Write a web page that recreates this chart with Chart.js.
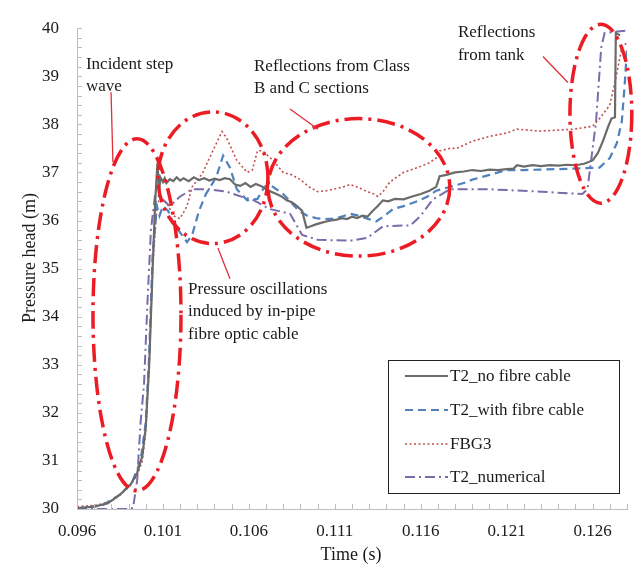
<!DOCTYPE html>
<html><head><meta charset="utf-8">
<script src="https://cdn.jsdelivr.net/npm/chart.js@4.4.1/dist/chart.umd.min.js"></script>
<style>html,body{margin:0;padding:0;background:#fff;}#wrap{width:643px;height:570px;}</style>
</head><body><div id="wrap"><canvas id="c" width="643" height="570"></canvas></div>
<script>
// ---------- data ----------
const seriesNames = ['T2_no fibre cable', 'T2_with fibre cable', 'FBG3', 'T2_numerical'];

const timeNoFibre = [0.0960,0.0970,0.0978,0.0985,0.0991,0.0995,0.0998,0.1000,0.1002,0.1004,0.10055,0.10068,0.10078,0.10085,0.1010,0.1011,0.1012,0.1014,0.1016,0.1018,0.1020,0.1022,0.1025,0.1028,0.1031,0.1034,0.1037,0.1040,0.1043,0.1046,0.1049,0.1052,0.1055,0.1058,0.1061,0.1064,0.1067,0.1070,0.1073,0.1076,0.1079,0.1082,0.1085,0.1088,0.1091,0.10935,0.1096,0.1099,0.1102,0.1105,0.1108,0.1111,0.1114,0.1117,0.1120,0.1123,0.1126,0.1129,0.1132,0.1135,0.1138,0.1141,0.1145,0.1150,0.1155,0.1160,0.1165,0.1169,0.1171,0.1175,0.1180,0.1185,0.1190,0.1195,0.1200,0.1205,0.1210,0.1214,0.1216,0.1220,0.1225,0.1230,0.1235,0.1240,0.1245,0.1250,0.1255,0.1260,0.1263,0.1266,0.1269,0.1271,0.1273,0.12735,0.1276];
const headNoFibre = [30.02,30.05,30.12,30.3,30.5,30.75,31.1,31.7,33.0,35.0,36.4,37.2,36.6,36.9,36.8,36.88,36.78,36.86,36.82,36.9,36.83,36.88,36.82,36.9,36.84,36.88,36.83,36.87,36.84,36.88,36.86,36.75,36.72,36.78,36.7,36.76,36.72,36.65,36.6,36.55,36.5,36.42,36.38,36.3,36.2,35.85,35.88,35.92,35.95,35.98,36.0,36.02,36.05,36.03,36.08,36.05,36.1,36.08,36.2,36.3,36.42,36.4,36.45,36.44,36.5,36.55,36.62,36.7,36.92,36.95,37.0,37.02,37.05,37.03,37.06,37.05,37.07,37.08,37.15,37.12,37.15,37.13,37.15,37.14,37.16,37.15,37.18,37.25,37.4,37.65,37.95,38.12,38.15,39.9,39.85];

const timeWithFibre = [0.0960,0.0975,0.0985,0.0992,0.0997,0.1000,0.1002,0.1004,0.10065,0.1008,0.1010,0.1013,0.1016,0.1020,0.1024,0.1027,0.1031,0.1035,0.1041,0.1045,0.1049,0.1053,0.1059,0.1065,0.1069,0.1072,0.1076,0.1080,0.1084,0.1089,0.1094,0.1099,0.1104,0.1109,0.1114,0.1119,0.1124,0.1129,0.1134,0.1139,0.1144,0.1150,0.1158,0.1164,0.1169,0.1177,0.1185,0.1190,0.1200,0.1210,0.1220,0.1230,0.1240,0.1250,0.1264,0.1270,0.1274,0.1277,0.12788,0.1280];
const headWithFibre = [30.0,30.08,30.3,30.55,31.0,31.8,33.2,35.3,36.3,36.1,36.3,36.2,35.95,35.75,35.55,35.7,36.2,36.55,36.9,37.35,37.1,36.65,36.42,36.45,36.7,36.75,36.65,36.55,36.4,36.2,36.1,36.05,36.03,36.04,36.08,36.14,36.1,36.04,35.98,36.1,36.24,36.3,36.4,36.5,36.62,36.7,36.78,36.85,36.95,37.05,37.05,37.06,37.07,37.08,37.1,37.3,37.6,38.06,38.9,39.6];

const timeFBG3 = [0.0960,0.0972,0.0982,0.0990,0.0995,0.0998,0.1000,0.1002,0.1004,0.10065,0.1008,0.1012,0.1016,0.1020,0.1024,0.1027,0.1033,0.1039,0.10444,0.1047,0.1053,0.1059,0.1062,0.1065,0.1068,0.1074,0.1080,0.1085,0.1090,0.1095,0.1100,0.1105,0.1109,0.1115,0.1119,0.1124,0.1129,0.1133,0.1135,0.1138,0.1142,0.1146,0.1150,0.1158,0.1165,0.1169,0.1171,0.1177,0.1181,0.1190,0.1200,0.1210,0.1216,0.1229,0.1240,0.1249,0.1260,0.1264,0.1270,0.1274,0.1277,0.1280];
const headFBG3 = [30.05,30.08,30.2,30.45,30.7,31.0,31.6,33.0,35.0,36.3,36.45,36.38,36.1,36.04,36.3,36.7,36.98,37.45,37.85,37.72,37.25,37.0,37.05,37.45,37.45,37.25,37.0,36.95,36.85,36.7,36.6,36.62,36.65,36.7,36.75,36.68,36.6,36.55,36.5,36.6,36.8,36.9,37.0,37.1,37.2,37.3,37.45,37.5,37.5,37.65,37.75,37.82,37.9,37.86,37.88,37.9,37.96,38.12,38.4,39.05,39.6,39.7];

const timeNumerical = [0.0960,0.0980,0.0990,0.09926,0.0995,0.0997,0.0999,0.1001,0.1003,0.10055,0.1008,0.1014,0.1020,0.1027,0.1037,0.1047,0.1057,0.1062,0.1072,0.1084,0.1091,0.1100,0.1119,0.1129,0.1138,0.1154,0.1160,0.1167,0.1177,0.1200,0.1230,0.1254,0.1257,0.1262,0.1265,0.1267,0.1280];
const headNumerical = [30.0,30.0,30.0,30.02,30.6,31.8,32.6,34.3,35.8,36.55,36.5,36.3,36.5,36.65,36.65,36.6,36.48,36.44,36.24,36.14,35.7,35.6,35.58,35.64,35.88,35.9,36.1,36.44,36.65,36.65,36.6,36.55,36.65,38.06,39.6,39.9,39.95];

const xTickValues = [0.096,0.101,0.106,0.111,0.116,0.121,0.126];
const yTickValues = [30,31,32,33,34,35,36,37,38,39,40];

// ---------- annotations (data coordinates) ----------
const noteEllipses = [
  {t:0.09949, h:34.04, dt:0.00256, dh:3.66},
  {t:0.10391, h:36.89, dt:0.00320, dh:1.37},
  {t:0.11240, h:36.69, dt:0.00529, dh:1.43},
  {t:0.12648, h:38.22, dt:0.00180, dh:1.86}
];
const noteLeaders = [
  [0.09798,38.67,0.09809,37.21],
  [0.10420,35.43,0.10490,34.79],
  [0.10839,38.32,0.11002,37.90],
  [0.12311,39.41,0.12456,38.87]
];
const noteTexts = [
  {t:0.09652, h:39.25, lines:['Incident step','wave']},
  {t:0.10630, h:39.21, lines:['Reflections from Class','B and C sections']},
  {t:0.11816, h:39.90, lines:['Reflections','from tank']},
  {t:0.10246, h:34.57, lines:['Pressure oscillations','induced by in-pipe','fibre optic cable']}
];

// ---------- styles ----------
const FONT = '"Liberation Serif", "Times New Roman", serif';
const styles = [
  {color:'#6b6b6b', width:2.2, dash:[]},
  {color:'#4f81bd', width:2.2, dash:[8,5]},
  {color:'#c0504d', width:1.6, dash:[2,2.5]},
  {color:'#7b6bab', width:2.0, dash:[10,4,2,4]}
];
const pairs = [[timeNoFibre,headNoFibre],[timeWithFibre,headWithFibre],[timeFBG3,headFBG3],[timeNumerical,headNumerical]];

const datasets = pairs.map((p,i)=>({
  label: seriesNames[i],
  data: p[0].map((t,k)=>({x:t, y:p[1][k]})),
  borderColor: styles[i].color,
  borderWidth: styles[i].width,
  borderDash: styles[i].dash,
  pointRadius: 0,
  tension: 0,
  fill: false
}));

const decor = {
  id:'decor',
  afterDatasetsDraw(chart){
    const {ctx, scales:{x,y}, chartArea:a} = chart;
    ctx.save();
    // inside minor ticks
    ctx.strokeStyle = '#bdbdbd'; ctx.lineWidth = 1; ctx.setLineDash([]);
    ctx.beginPath();
    for (let i=96;i<=128;i++){ const px=Math.round(x.getPixelForValue(i/1000))+0.5; ctx.moveTo(px,a.bottom); ctx.lineTo(px,a.bottom-5); }
    for (let j=0;j<=50;j++){ const py=Math.round(y.getPixelForValue(30+j*0.2))+0.5; ctx.moveTo(a.left,py); ctx.lineTo(a.left+5,py); }
    ctx.stroke();

    // red ellipses
    ctx.strokeStyle = '#ec1c24'; ctx.lineWidth = 3.5; ctx.setLineDash([18,6,3,6]);
    noteEllipses.forEach(e=>{
      const cx=x.getPixelForValue(e.t), cy=y.getPixelForValue(e.h);
      const rx=Math.abs(x.getPixelForValue(e.t+e.dt)-cx), ry=Math.abs(y.getPixelForValue(e.h+e.dh)-cy);
      ctx.beginPath(); ctx.ellipse(cx,cy,rx,ry,0,0,Math.PI*2); ctx.stroke();
    });
    // leaders
    ctx.setLineDash([]); ctx.lineWidth = 1.3; ctx.strokeStyle = '#e0303a';
    noteLeaders.forEach(l=>{
      ctx.beginPath(); ctx.moveTo(x.getPixelForValue(l[0]),y.getPixelForValue(l[1]));
      ctx.lineTo(x.getPixelForValue(l[2]),y.getPixelForValue(l[3])); ctx.stroke();
    });
    // texts
    ctx.fillStyle = '#1a1a1a'; ctx.font = '17px '+FONT; ctx.textAlign='left'; ctx.textBaseline='middle';
    noteTexts.forEach(n=>{
      const px=x.getPixelForValue(n.t), py=y.getPixelForValue(n.h);
      n.lines.forEach((s,k)=>ctx.fillText(s,px,py+k*22.5));
    });

    // legend
    const L={x:388,y:360,w:231,h:133};
    ctx.fillStyle='#fff'; ctx.fillRect(L.x,L.y,L.w,L.h);
    ctx.strokeStyle='#222'; ctx.lineWidth=1; ctx.strokeRect(L.x+0.5,L.y+0.5,L.w,L.h);
    const rows=[376,410,444,477];
    seriesNames.forEach((name,i)=>{
      ctx.strokeStyle=styles[i].color; ctx.lineWidth=styles[i].width; ctx.setLineDash(styles[i].dash);
      ctx.beginPath(); ctx.moveTo(405,rows[i]); ctx.lineTo(448,rows[i]); ctx.stroke();
      ctx.setLineDash([]);
      ctx.fillStyle='#1a1a1a'; ctx.font='17px '+FONT; ctx.textAlign='left'; ctx.textBaseline='middle';
      ctx.fillText(name,450,rows[i]+1);
    });

    // axis titles
    ctx.fillStyle='#1a1a1a'; ctx.font='18px '+FONT; ctx.textAlign='center'; ctx.textBaseline='middle';
    ctx.fillText('Time (s)', 351, 555);
    ctx.save(); ctx.translate(30,258); ctx.rotate(-Math.PI/2); ctx.fillText('Pressure head (m)',0,0); ctx.restore();
    ctx.restore();
  }
};

new Chart(document.getElementById('c'), {
  type:'line',
  data:{datasets},
  options:{
    responsive:false, animation:false, devicePixelRatio:1,
    layout:{padding:{left:0,top:14,right:16,bottom:0}},
    plugins:{legend:{display:false}, tooltip:{enabled:false}},
    scales:{
      x:{type:'linear', min:0.096, max:0.128,
        afterBuildTicks:s=>{s.ticks=xTickValues.map(v=>({value:v}));},
        afterFit:s=>{s.height=61;},
        ticks:{autoSkip:false, maxRotation:0, padding:12, color:'#1a1a1a', font:{family:FONT,size:17}, callback:v=>Number(v).toFixed(3)},
        grid:{display:false, drawTicks:false},
        border:{display:true, color:'#bfbfbf', width:1}
      },
      y:{type:'linear', min:30, max:40,
        afterBuildTicks:s=>{s.ticks=yTickValues.map(v=>({value:v}));},
        afterFit:s=>{s.width=77;},
        ticks:{padding:18, color:'#1a1a1a', font:{family:FONT,size:17}},
        grid:{display:false, drawTicks:false},
        border:{display:true, color:'#bfbfbf', width:1}
      }
    }
  },
  plugins:[decor]
});
</script></body></html>
